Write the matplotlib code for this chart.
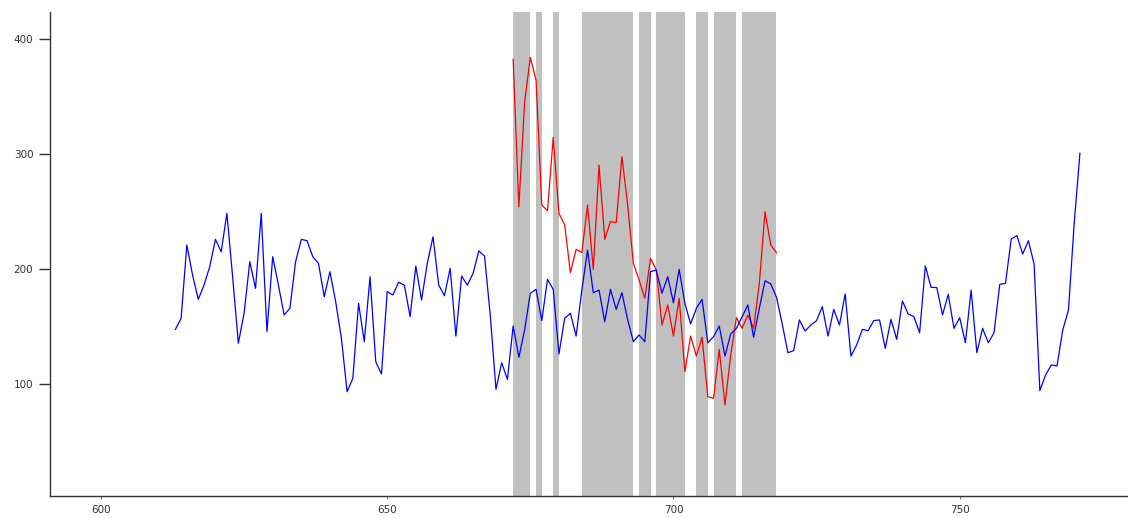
import numpy as np
import matplotlib
matplotlib.use("Agg")
import matplotlib.pyplot as plt

# ---------------------------------------------------------------------------
# Data
# ---------------------------------------------------------------------------
blue_start = 613
blue_vals = [
    147.5, 157.0, 220.9, 194.8, 173.6, 186.0, 202.0, 225.8, 215.0, 248.4,   # 613-622
    193.3, 135.4, 161.5, 206.4, 183.2, 248.4, 145.5, 210.7, 186.0, 160.0,   # 623-632
    165.8, 206.4, 225.8, 224.6, 210.7, 204.9, 175.9, 197.7, 171.6, 139.7,   # 633-642
    93.3, 104.9, 170.1, 136.8, 193.3, 119.4, 108.7, 180.3, 177.4, 188.5,    # 643-652
    186.0, 158.5, 202.6, 173.0, 204.9, 228.0, 186.0, 176.8, 200.6, 141.7,   # 653-662
    193.9, 186.0, 196.2, 215.7, 211.3, 160.0, 95.4, 118.5, 104.0, 150.4,    # 663-672
    123.2, 147.0, 178.9, 182.3, 155.1, 191.0, 182.3, 126.1, 157.1, 161.5,   # 673-682
    141.7, 181.7, 216.5, 179.4, 181.7, 154.2, 182.3, 164.9, 179.4, 156.0,   # 683-692
    136.8, 142.6, 136.8, 197.7, 199.1, 178.9, 193.3, 170.7, 199.7, 170.1,   # 693-702
    152.2, 165.8, 173.6, 135.9, 141.1, 150.4, 124.3, 143.5, 148.4, 158.5,   # 703-712
    168.7, 140.6, 165.8, 189.8, 187.0, 175.4, 152.2, 127.2, 129.0, 155.7,   # 713-722
    146.1, 151.3, 155.1, 167.3, 141.7, 164.9, 151.3, 178.3, 124.3, 133.9,   # 723-732
    147.5, 146.4, 155.1, 155.7, 131.0, 156.2, 138.8, 172.2, 160.9, 158.6,   # 733-742
    144.6, 202.6, 184.1, 183.8, 160.0, 178.0, 148.4, 157.7, 135.9, 181.7,   # 743-752
    127.2, 148.4, 135.9, 144.6, 186.7, 187.5, 226.1, 229.0, 213.0, 224.6,   # 753-762
    204.3, 94.2, 107.8, 116.5, 115.7, 146.9, 164.3, 239.7, 300.6,           # 763-771
]

red_start = 672
red_vals = [
    382.3, 254.2, 345.0, 384.0, 364.3, 255.7, 250.7, 314.5, 248.4, 238.3,   # 672-681
    196.8, 217.1, 214.2, 255.7, 199.7, 290.4, 225.8, 241.2, 240.3, 297.7,   # 682-691
    255.7, 204.9, 190.4, 174.5, 209.3, 199.1, 151.3, 168.7, 141.7, 174.5,   # 692-701
    110.7, 141.7, 124.3, 140.6, 89.0, 87.5, 130.1, 81.7, 125.2, 157.7,      # 702-711
    148.4, 160.0, 148.4, 187.5, 249.8, 220.9, 214.2,                        # 712-718
]

# shaded periods (start, end)
shade_start = [672, 676, 679, 684, 694, 697, 704, 707, 712]
shade_end   = [675, 677, 680, 693, 696, 702, 706, 711, 718]

x_ticks = [600, 650, 700, 750]
y_ticks = [100, 200, 300, 400]

blue_x = np.arange(blue_start, blue_start + len(blue_vals))
red_x = np.arange(red_start, red_start + len(red_vals))

# ---------------------------------------------------------------------------
# Plot
# ---------------------------------------------------------------------------
fig = plt.figure(figsize=(11.28, 5.18), dpi=100)
ax = fig.add_axes([50 / 1128, 22 / 518, 1 - 50 / 1128, (496 - 12) / 518])

for s, e in zip(shade_start, shade_end):
    ax.axvspan(s, e, color="#c0c0c0", lw=0, zorder=1)

ax.plot(blue_x, blue_vals, color="#0000ff", lw=0.9, zorder=3)
ax.plot(red_x, red_vals, color="#ff0000", lw=0.9, zorder=2)

ax.set_xlim(591.1, 779.4)
ax.set_ylim(2.6, 423.5)
ax.set_xticks(x_ticks)
ax.set_yticks(y_ticks)

for side in ("top", "right"):
    ax.spines[side].set_visible(False)
for side in ("left", "bottom"):
    ax.spines[side].set_color("#333333")
    ax.spines[side].set_linewidth(1.0)

ax.tick_params(axis="y", length=8, width=1.0, color="#333333", pad=4,
               labelsize=7.5, labelcolor="#333333")
ax.tick_params(axis="x", length=2.5, width=0.8, color="#777777", pad=4,
               labelsize=7.5, labelcolor="#333333")

fig.savefig("out.png", dpi=100)
